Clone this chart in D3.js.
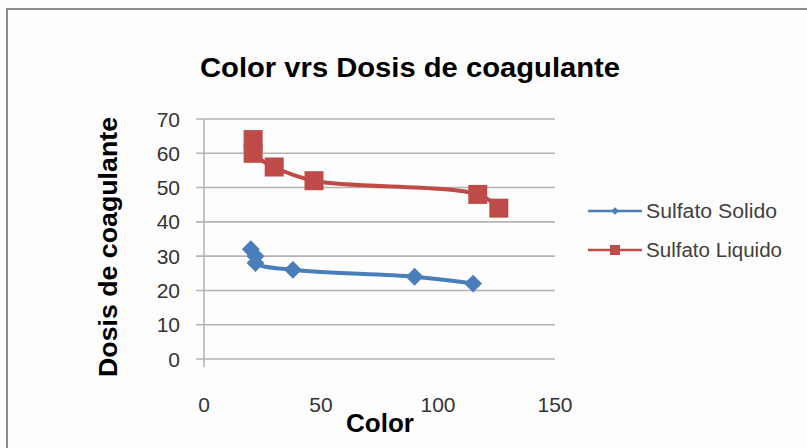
<!DOCTYPE html>
<html>
<head>
<meta charset="utf-8">
<script src="https://cdn.jsdelivr.net/npm/d3@7"></script>
<style>
  html, body { margin: 0; padding: 0; background: #fdfdfd; }
  svg { display: block; font-family: "Liberation Sans", Arial, sans-serif; }
</style>
</head>
<body>
<svg id="chart" width="807" height="448"></svg>
<script>
// Series data: color (x) vs coagulant dose (y)
const solidoColor = [20, 22, 22, 38, 90, 115];
const solidoDosis = [32, 30, 28, 26, 24, 22];
const liquidoColor = [21, 21, 30, 47, 117, 126];
const liquidoDosis = [64, 60, 56, 52, 48, 44];
const seriesNames = ["Sulfato Solido", "Sulfato Liquido"];
const xTicks = [0, 50, 100, 150];
const yTicks = [0, 10, 20, 30, 40, 50, 60, 70];

const chartTitle = "Color vrs Dosis de coagulante";
const xTitle = "Color";
const yTitle = "Dosis de coagulante";

const colors = { solido: "#4a7ebb", liquido: "#be4b48" };

const svg = d3.select("#chart");

// chart area frame
svg.append("rect")
  .attr("x", 7).attr("y", 9)
  .attr("width", 820).attr("height", 460)
  .attr("fill", "#fdfdfd")
  .attr("stroke", "#8c8c8c")
  .attr("stroke-width", 2);

const x = d3.scaleLinear().domain([0, 150]).range([204, 555]);
const y = d3.scaleLinear().domain([0, 70]).range([359, 119]);

// horizontal gridlines with small ticks left of the axis
const grid = svg.append("g");
grid.selectAll("line.grid")
  .data(yTicks)
  .join("line")
  .attr("class", "grid")
  .attr("x1", x(0) - 8).attr("x2", x(150))
  .attr("y1", d => y(d)).attr("y2", d => y(d))
  .attr("stroke", "#b4b4b4")
  .attr("stroke-width", 1.6);

// vertical value axis line
svg.append("line")
  .attr("x1", x(0)).attr("x2", x(0))
  .attr("y1", y(70)).attr("y2", y(0) + 8)
  .attr("stroke", "#b4b4b4")
  .attr("stroke-width", 1.6);

// y tick labels
svg.append("g").selectAll("text")
  .data(yTicks)
  .join("text")
  .attr("x", 180)
  .attr("y", d => y(d))
  .attr("dy", "0.36em")
  .attr("text-anchor", "end")
  .attr("font-size", 21)
  .attr("fill", "#333")
  .text(d => d);

// x tick labels
svg.append("g").selectAll("text")
  .data(xTicks)
  .join("text")
  .attr("x", d => x(d))
  .attr("y", 412)
  .attr("text-anchor", "middle")
  .attr("font-size", 21)
  .attr("fill", "#333")
  .text(d => d);

// titles
svg.append("text")
  .attr("x", 410).attr("y", 77)
  .attr("text-anchor", "middle")
  .attr("font-size", 27)
  .attr("font-weight", "bold")
  .attr("fill", "#000")
  .attr("textLength", 420)
  .attr("lengthAdjust", "spacingAndGlyphs")
  .text(chartTitle);

svg.append("text")
  .attr("x", 380).attr("y", 432)
  .attr("text-anchor", "middle")
  .attr("font-size", 26)
  .attr("font-weight", "bold")
  .attr("fill", "#000")
  .text(xTitle);

svg.append("text")
  .attr("transform", "translate(117,247) rotate(-90)")
  .attr("text-anchor", "middle")
  .attr("font-size", 26)
  .attr("font-weight", "bold")
  .attr("fill", "#000")
  .attr("textLength", 260)
  .attr("lengthAdjust", "spacingAndGlyphs")
  .text(yTitle);

// series lines and markers
const line = d3.line()
  .x(d => x(d[0]))
  .y(d => y(d[1]))
  .curve(d3.curveCatmullRom.alpha(0.5));

const solido = d3.zip(solidoColor, solidoDosis);
const liquido = d3.zip(liquidoColor, liquidoDosis);

const diamond = d3.symbol().type(d3.symbolSquare);

function drawSeries(data, color, marker) {
  svg.append("path")
    .datum(data)
    .attr("d", line)
    .attr("fill", "none")
    .attr("stroke", color)
    .attr("stroke-width", 4)
    .attr("stroke-linejoin", "round");
  const g = svg.append("g");
  if (marker === "diamond") {
    g.selectAll("path")
      .data(data)
      .join("path")
      .attr("d", d3.symbol().type(d3.symbolSquare).size(160))
      .attr("transform", d => `translate(${x(d[0])},${y(d[1])}) rotate(45)`)
      .attr("fill", color);
  } else {
    g.selectAll("rect")
      .data(data)
      .join("rect")
      .attr("x", d => x(d[0]) - 9.5)
      .attr("y", d => y(d[1]) - 9.5)
      .attr("width", 19).attr("height", 19)
      .attr("fill", color);
  }
}

drawSeries(solido, colors.solido, "diamond");
drawSeries(liquido, colors.liquido, "square");

// legend
const legend = svg.append("g");
const legendItems = [
  { name: seriesNames[0], color: colors.solido, marker: "diamond", y: 211 },
  { name: seriesNames[1], color: colors.liquido, marker: "square", y: 250 }
];
legendItems.forEach(item => {
  legend.append("line")
    .attr("x1", 588).attr("x2", 642)
    .attr("y1", item.y).attr("y2", item.y)
    .attr("stroke", item.color)
    .attr("stroke-width", 2.5);
  if (item.marker === "diamond") {
    legend.append("path")
      .attr("d", d3.symbol().type(d3.symbolSquare).size(30))
      .attr("transform", `translate(615,${item.y}) rotate(45)`)
      .attr("fill", item.color);
  } else {
    legend.append("rect")
      .attr("x", 610).attr("y", item.y - 5)
      .attr("width", 10).attr("height", 10)
      .attr("fill", item.color);
  }
  legend.append("text")
    .attr("x", 646).attr("y", item.y + 7)
    .attr("font-size", 20)
    .attr("fill", "#404040")
    .attr("textLength", item.name === seriesNames[0] ? 131 : 136)
    .attr("lengthAdjust", "spacingAndGlyphs")
    .text(item.name);
});
</script>
</body>
</html>
